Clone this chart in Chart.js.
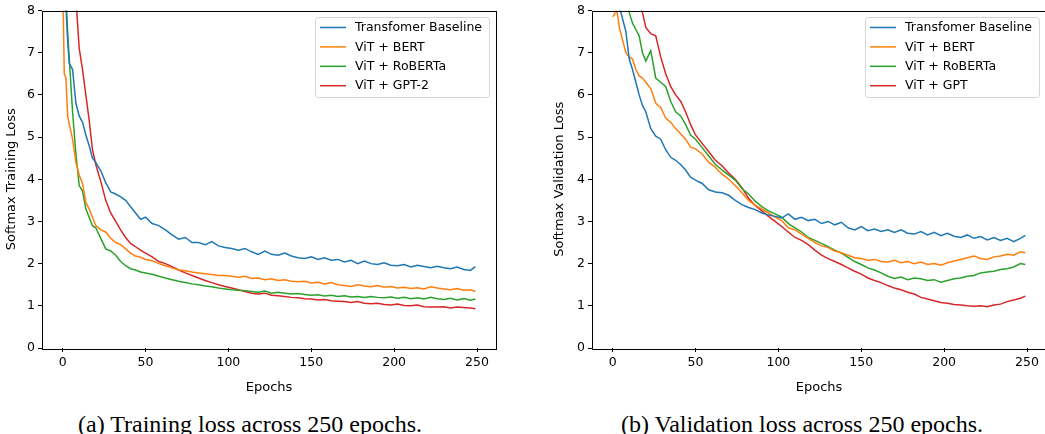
<!DOCTYPE html>
<html>
<head>
<meta charset="utf-8">
<script src="https://cdn.jsdelivr.net/npm/chart.js@4.4.1/dist/chart.umd.min.js"></script>
<style>
body { margin: 0; background: #fff; width: 1045px; height: 434px; overflow: hidden; position: relative; }
.box { position: absolute; top: 0; }
.cap { position: absolute; top: 412px; font-family: "Liberation Serif", "Times New Roman", serif; font-size: 24px; line-height: 24px; color: #000; text-align: center; white-space: nowrap; }
</style>
</head>
<body>
<div class="box" style="left:0"><canvas id="trainChart" width="500" height="395"></canvas></div>
<div class="box" style="left:548px"><canvas id="valChart" width="498" height="395"></canvas></div>
<div class="cap" style="left:0;width:500px">(a) Training loss across 250 epochs.</div>
<div class="cap" style="left:552px;width:500px">(b) Validation loss across 250 epochs.</div>
<script>
// epochs sampled from the curves (denser at the start where loss falls fast)
var epochs = [0, 1, 2, 3, 4, 6, 8, 10, 12, 14, 16, 18, 20,
    23, 26, 29, 32, 35, 38, 41, 44, 47, 50,
    54, 58, 62, 66, 70, 74, 78, 82, 86, 90, 94, 98, 102, 106, 110, 114, 118, 122,
    126, 130, 134, 138, 142, 146, 150, 154, 158, 162, 166, 170, 174, 178, 182, 186, 190, 194,
    198, 202, 206, 210, 214, 218, 222, 226, 230, 234, 238, 242, 246, 249];

// training loss
var trainBaseline = [9.6, 9.0, 8.1, 7.3, 6.75, 6.6, 5.8, 5.5, 5.35, 5.05, 4.8, 4.5, 4.4,
    4.2, 3.92, 3.7, 3.65, 3.58, 3.5, 3.35, 3.2, 3.05, 3.1,
    2.95, 2.9, 2.8, 2.68, 2.58, 2.62, 2.5, 2.5, 2.45, 2.52, 2.42, 2.38, 2.36, 2.32, 2.36, 2.28, 2.22, 2.3,
    2.22, 2.2, 2.25, 2.18, 2.14, 2.12, 2.16, 2.1, 2.14, 2.08, 2.1, 2.04, 2.08, 2.0, 2.06, 2.0, 1.98, 2.02,
    1.96, 1.95, 1.98, 1.92, 1.96, 1.93, 1.9, 1.94, 1.9, 1.88, 1.92, 1.86, 1.84, 1.93];
var trainBert = [8.8, 6.5, 6.4, 5.5, 5.3, 4.95, 4.4, 4.1, 3.9, 3.45, 3.3, 3.1, 2.9,
    2.8, 2.75, 2.6, 2.5, 2.45, 2.35, 2.25, 2.18, 2.15, 2.1,
    2.07, 2.0, 1.95, 1.9, 1.85, 1.83, 1.8, 1.78, 1.76, 1.74, 1.72, 1.72, 1.7, 1.68, 1.7, 1.65, 1.66, 1.62,
    1.64, 1.6, 1.62, 1.58, 1.57, 1.58, 1.54, 1.56, 1.52, 1.55, 1.5, 1.48, 1.46, 1.5, 1.47, 1.45, 1.48, 1.44,
    1.46, 1.42, 1.44, 1.41, 1.43, 1.4, 1.45, 1.42, 1.4, 1.38, 1.41, 1.37, 1.38, 1.34];
var trainRoberta = [10.2, 9.2, 8.3, 7.5, 6.85, 5.6, 4.6, 3.85, 3.72, 3.3, 3.1, 2.9, 2.85,
    2.6, 2.35, 2.3, 2.2, 2.05, 1.95, 1.88, 1.85, 1.8, 1.78,
    1.75, 1.7, 1.66, 1.62, 1.58, 1.55, 1.52, 1.5, 1.47, 1.45, 1.42, 1.4, 1.38, 1.37, 1.36, 1.34, 1.32, 1.35,
    1.3, 1.32, 1.3, 1.28, 1.29, 1.27, 1.25, 1.26, 1.23, 1.25, 1.22, 1.24, 1.21, 1.22, 1.2, 1.22, 1.2, 1.19,
    1.21, 1.18, 1.2, 1.17, 1.19, 1.16, 1.2, 1.17, 1.15, 1.18, 1.14, 1.17, 1.13, 1.16];
var trainGpt2 = [13.5, 12.5, 11.6, 10.8, 10.1, 9.1, 8.3, 7.1, 6.6, 6.0, 5.4, 4.7, 4.35,
    3.95, 3.5, 3.2, 3.0, 2.8, 2.62, 2.48, 2.4, 2.32, 2.25,
    2.16, 2.05, 2.0, 1.93, 1.85, 1.78, 1.72, 1.66, 1.6, 1.55, 1.5, 1.46, 1.42, 1.38, 1.34, 1.3, 1.28, 1.3,
    1.25, 1.24, 1.22, 1.2, 1.19, 1.17, 1.16, 1.14, 1.15, 1.12, 1.11, 1.1, 1.08, 1.1, 1.06, 1.05, 1.06, 1.03,
    1.02, 1.04, 1.01, 1.0, 1.02, 0.98, 0.97, 0.97, 0.98, 0.95, 0.97, 0.96, 0.95, 0.93];

// validation loss
var valBaseline = [8.9, 8.7, 8.5, 8.3, 8.1, 7.8, 7.5, 6.85, 6.6, 6.3, 6.0, 5.75, 5.6,
    5.2, 5.02, 4.95, 4.7, 4.52, 4.45, 4.35, 4.22, 4.05, 3.98,
    3.9, 3.75, 3.7, 3.68, 3.62, 3.5, 3.4, 3.33, 3.28, 3.2, 3.15, 3.12, 3.08, 3.18, 3.05, 3.1, 3.02, 3.05,
    2.95, 3.0, 2.92, 2.98, 2.85, 2.8, 2.88, 2.78, 2.82, 2.76, 2.8, 2.74, 2.8, 2.72, 2.7, 2.76, 2.68, 2.74,
    2.66, 2.72, 2.65, 2.62, 2.68, 2.6, 2.64, 2.56, 2.62, 2.55, 2.6, 2.52, 2.6, 2.67];
var valBert = [7.85, 7.9, 8.0, 7.9, 7.6, 7.3, 7.0, 6.9, 6.85, 6.6, 6.45, 6.4, 6.3,
    6.15, 5.8, 5.7, 5.45, 5.35, 5.2, 5.08, 4.95, 4.76, 4.72,
    4.6, 4.4, 4.28, 4.12, 4.0, 3.85, 3.68, 3.5, 3.38, 3.3, 3.2, 3.1, 3.02, 2.85, 2.8, 2.7, 2.6, 2.5,
    2.42, 2.38, 2.3, 2.26, 2.2, 2.14, 2.12, 2.08, 2.1, 2.05, 2.04, 2.08, 2.02, 2.05, 2.0, 2.04, 1.98, 2.0,
    1.96, 2.02, 2.06, 2.1, 2.14, 2.18, 2.12, 2.1, 2.16, 2.18, 2.22, 2.2, 2.28, 2.26];
var valRoberta = [9.8, 9.6, 9.4, 9.2, 9.0, 8.6, 8.3, 7.95, 7.7, 7.55, 7.4, 7.0, 6.8,
    7.05, 6.4, 6.3, 6.2, 5.85, 5.6, 5.5, 5.3, 5.05, 4.95,
    4.75, 4.55, 4.35, 4.22, 4.1, 3.98, 3.78, 3.65, 3.48, 3.35, 3.25, 3.18, 3.1, 2.95, 2.85, 2.75, 2.62, 2.55,
    2.48, 2.4, 2.32, 2.25, 2.15, 2.05, 1.98, 1.9, 1.85, 1.78, 1.7, 1.65, 1.68, 1.62, 1.66, 1.64, 1.6, 1.62,
    1.56, 1.6, 1.64, 1.66, 1.7, 1.72, 1.78, 1.8, 1.82, 1.86, 1.88, 1.92, 2.0, 1.98];
var valGpt = [11.0, 10.8, 10.6, 10.4, 10.2, 9.8, 9.5, 9.1, 8.8, 8.5, 8.2, 7.95, 7.6,
    7.45, 7.4, 6.9, 6.5, 6.2, 6.0, 5.85, 5.6, 5.3, 5.05,
    4.85, 4.65, 4.45, 4.32, 4.15, 4.0, 3.8, 3.55, 3.38, 3.25, 3.12, 3.0, 2.88, 2.75, 2.62, 2.55, 2.45, 2.32,
    2.2, 2.12, 2.05, 1.98, 1.9, 1.82, 1.75, 1.66, 1.6, 1.55, 1.48, 1.42, 1.38, 1.32, 1.28, 1.2, 1.16, 1.12,
    1.08, 1.06, 1.03, 1.02, 1.0, 0.99, 1.0, 0.98, 1.02, 1.04, 1.1, 1.14, 1.18, 1.23];

var xTicks = [0, 50, 100, 150, 200, 250];
var yTicks = [0, 1, 2, 3, 4, 5, 6, 7, 8];
var colors = ['#1f77b4', '#ff7f0e', '#2ca02c', '#d62728'];

Chart.defaults.font.family = 'DejaVu Sans';
Chart.defaults.font.size = 12.5;
Chart.defaults.color = '#000';

function toPoints(values) {
    return values.map(function (v, i) { return { x: epochs[i], y: v }; });
}

// axes frame + matplotlib style legend box inside the plot
var framePlugin = {
    id: 'frame',
    afterDatasetsDraw: function (chart) {
        var a = chart.chartArea, ctx = chart.ctx;
        ctx.save();
        ctx.strokeStyle = '#000';
        ctx.lineWidth = 1;
        ctx.strokeRect(Math.round(a.left) + 0.5, Math.round(a.top) + 0.5,
            Math.round(a.right - a.left), Math.round(a.bottom - a.top));

        ctx.font = '12.5px "DejaVu Sans"';
        var ds = chart.data.datasets;
        var maxW = 0;
        ds.forEach(function (d) { maxW = Math.max(maxW, ctx.measureText(d.label).width); });
        var bw = Math.round(40 + maxW + 7), bh = 80;
        var bx = Math.round(a.right - 7 - bw), by = Math.round(a.top + 6);
        ctx.fillStyle = 'rgba(255,255,255,0.8)';
        ctx.strokeStyle = '#d4d4d4';
        ctx.beginPath();
        ctx.roundRect(bx + 0.5, by + 0.5, bw, bh, 3);
        ctx.fill();
        ctx.stroke();
        ds.forEach(function (d, i) {
            var y = by + 10.5 + i * 19.4;
            ctx.strokeStyle = d.borderColor;
            ctx.lineWidth = 1.5;
            ctx.beginPath();
            ctx.moveTo(bx + 5, y);
            ctx.lineTo(bx + 31, y);
            ctx.stroke();
            ctx.fillStyle = '#000';
            ctx.textBaseline = 'middle';
            ctx.fillText(d.label, bx + 40, y + 0.5);
        });
        ctx.restore();
    }
};

function makeChart(id, labels, series, yTitle, yWidth, padRight) {
    var ctx = document.getElementById(id).getContext('2d');
    return new Chart(ctx, {
        type: 'line',
        data: {
            datasets: series.map(function (s, i) {
                return {
                    label: labels[i],
                    data: toPoints(s),
                    borderColor: colors[i],
                    backgroundColor: colors[i],
                    borderWidth: 1.5,
                    pointRadius: 0,
                    tension: 0,
                    fill: false,
                    clip: 0
                };
            })
        },
        options: {
            responsive: false,
            animation: false,
            layout: { padding: { top: 10, right: padRight, left: 0, bottom: 0 } },
            plugins: { legend: { display: false }, tooltip: { enabled: false } },
            scales: {
                x: {
                    type: 'linear',
                    min: -12.45,
                    max: 261.45,
                    afterBuildTicks: function (scale) { scale.ticks = xTicks.map(function (v) { return { value: v }; }); },
                    afterFit: function (scale) { scale.height = 47; },
                    grid: { drawOnChartArea: false, drawTicks: true, tickLength: 4, tickColor: '#000' },
                    border: { display: false },
                    ticks: { padding: 3, maxRotation: 0 },
                    title: { display: true, text: 'Epochs', font: { size: 13 }, padding: { top: 7, bottom: 0 } }
                },
                y: {
                    min: 0,
                    max: 8,
                    afterBuildTicks: function (scale) { scale.ticks = yTicks.map(function (v) { return { value: v }; }); },
                    afterFit: function (scale) { scale.width = yWidth; },
                    grid: { drawOnChartArea: false, drawTicks: true, tickLength: 4, tickColor: '#000' },
                    border: { display: false },
                    ticks: { padding: 3 },
                    title: { display: true, text: yTitle, font: { size: 13 }, padding: { top: 4, bottom: 0 } }
                }
            }
        },
        plugins: [framePlugin]
    });
}

makeChart('trainChart',
    ['Transfomer Baseline', 'ViT + BERT', 'ViT + RoBERTa', 'ViT + GPT-2'],
    [trainBaseline, trainBert, trainRoberta, trainGpt2],
    'Softmax Training Loss', 42, 4);

makeChart('valChart',
    ['Transfomer Baseline', 'ViT + BERT', 'ViT + RoBERTa', 'ViT + GPT'],
    [valBaseline, valBert, valRoberta, valGpt],
    'Softmax Validation Loss', 44, 0);
</script>
</body>
</html>
